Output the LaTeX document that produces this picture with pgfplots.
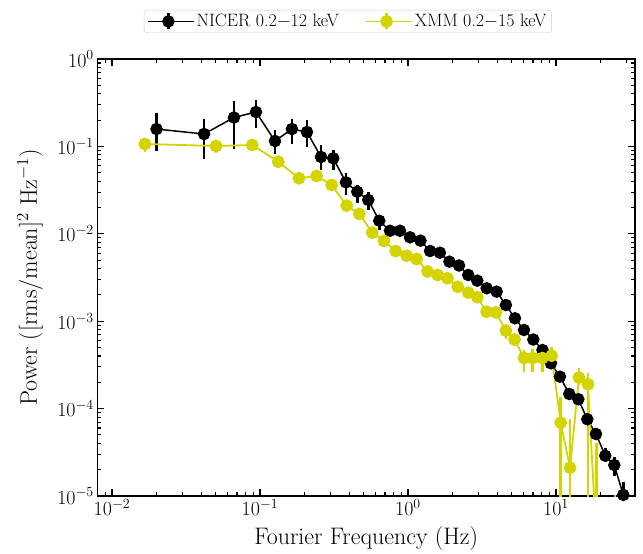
\RequirePackage{fix-cm}
\documentclass[border=0pt]{standalone}
\usepackage{pgfplots}
\pgfplotsset{compat=1.18}
\usepackage{pgfplotstable}
\definecolor{xmmy}{RGB}{212,212,0}

\pgfplotstableread{
f p ep em
0.0200 0.158 0.083 0.069
0.0419 0.1386 0.068 0.067
0.0667 0.214 0.117 0.121
0.0940 0.2475 0.092 0.085
0.1263 0.1153 0.039 0.034
0.1644 0.158 0.048 0.051
0.2078 0.146 0.055 0.048
0.2585 0.0757 0.028 0.022
0.3128 0.0731 0.018 0.019
0.3811 0.0388 0.0104 0.011
0.4543 0.0303 0.006 0.008
0.5390 0.0244 0.006 0.0057
0.6397 0.0141 0.0023 0.0031
0.7557 0.01084 0.0012 0.0011
0.8830 0.01084 0.0011 0.0010
1.032 0.00912 0.0008 0.0008
1.215 0.00834 0.0007 0.0007
1.409 0.00636 0.0005 0.0005
1.644 0.00608 0.0005 0.0005
1.906 0.00480 0.0004 0.0004
2.213 0.00434 0.0003 0.0003
2.554 0.00338 0.00025 0.00025
2.940 0.00291 0.0002 0.0002
3.402 0.00238 0.00017 0.00017
3.975 0.00218 0.00015 0.00015
4.590 0.00153 0.0001 0.0001
5.283 0.00108 0.00008 0.00008
6.08 0.000793 0.00006 0.00006
7.03 0.000617 0.00005 0.00005
8.11 0.000468 0.00004 0.00004
9.25 0.000330 0.00003 0.00003
10.64 0.000232 0.00002 0.00002
12.30 0.000147 0.000014 0.000014
14.16 0.000128 0.000013 0.000013
16.29 7.55e-5 0.8e-5 0.8e-5
18.64 5.12e-5 0.6e-5 0.6e-5
21.53 2.89e-5 0.65e-5 0.41e-5
24.77 2.26e-5 0.53e-5 0.57e-5
28.5 1.03e-5 0.43e-5 0.5e-5
}\nicer

\pgfplotstableread{
f p ep em
0.0167 0.1066 0.018 0.020
0.0505 0.1011 0.014 0.017
0.0887 0.1038 0.010 0.010
0.1329 0.0668 0.005 0.005
0.1834 0.0432 0.003 0.003
0.2415 0.0459 0.003 0.003
0.305 0.0362 0.0025 0.0025
0.3855 0.0210 0.0015 0.0015
0.469 0.01687 0.0012 0.0012
0.574 0.01031 0.0008 0.0008
0.689 0.00828 0.0006 0.0006
0.826 0.00636 0.0005 0.0005
0.980 0.00561 0.0004 0.0004
1.145 0.00515 0.0004 0.0004
1.355 0.00371 0.0003 0.0003
1.588 0.00338 0.0003 0.0003
1.849 0.00310 0.0003 0.0003
2.168 0.00248 0.0002 0.0002
2.555 0.00212 0.0002 0.0002
2.94 0.00188 0.0002 0.0002
3.40 0.00128 0.00012 0.00012
3.93 0.00126 0.00012 0.00012
4.59 0.000778 0.00015 0.00015
5.25 0.000617 0.0001 0.0001
6.08 0.000379 0.00009 0.000115
6.96 0.000379 0.0001 0.000115
8.08 0.000379 0.00009 0.000115
9.35 0.000403 0.000107 0.000073
10.76 6.9e-5 6.8e-5 6.89e-5
12.45 2.11e-5 5.5e-5 2.1e-5
14.30 2.26e-4 0.66e-4 0.4e-4
16.45 1.90e-4 0.65e-4 1.899e-4
18.8 3e-6 3.74e-5 2.9e-6
21.6 2e-6 5e-6 1.9e-6
25.1 2e-6 8.2e-6 1.9e-6
}\xmm

\begin{document}
\begin{tikzpicture}
\begin{axis}[
  name=ax,
  scale only axis,
  width=537.7bp, height=437bp,
  xmode=log, ymode=log,
  xmin=0.00796, xmax=34.2, ymin=1e-5, ymax=1,
  tick align=inside,
  xtick pos=both, ytick pos=both,
  major tick length=7bp, minor tick length=4bp,
  every tick/.append style={black, line width=1.1bp},
  axis line style={line width=1.1bp},
  tick label style={font=\fontsize{20}{24}\selectfont},
  label style={font=\fontsize{24}{29}\selectfont},
  xlabel={Fourier Frequency (Hz)},
  ylabel={Power ([rms/mean]$^2$ Hz$^{-1}$)},
  xlabel style={at={(axis description cs:0.5,-0.098)}, anchor=center},
  ylabel style={at={(axis description cs:-0.125,0.5)}, anchor=center},
  legend columns=2,
  legend style={at={(axis description cs:0.466,1.086)}, anchor=center,
    draw=black!20, rounded corners=3bp, font=\fontsize{18}{21}\selectfont,
    inner ysep=2bp,
    /tikz/every even column/.append style={column sep=24bp}},
  legend image code/.code={
    \path (-4bp,0bp) -- (42bp,0bp);
    \draw[#1,mark=none] (0bp,0bp) -- (33bp,0bp);
    \draw[#1,mark=none,line width=2.6bp] (16.5bp,-8bp) -- (16.5bp,8bp);
    \draw[#1,only marks] plot coordinates {(16.5bp,0bp)};
  },
]
\addplot[black, line width=1.5bp, mark=*, mark size=5.5bp, mark options={solid, fill=black},
  error bars/.cd, y dir=both, y explicit, error mark=none,
  error bar style={line width=2.6bp, black}]
  table[x=f, y=p, y error plus=ep, y error minus=em]{\nicer};
\addlegendentry{NICER 0.2$-$12 keV}
\addplot[xmmy, line width=1.8bp, mark=*, mark size=5.5bp, mark options={solid, fill=xmmy, draw=xmmy},
  error bars/.cd, y dir=both, y explicit, error mark=none,
  error bar style={line width=2.6bp, xmmy}]
  table[x=f, y=p, y error plus=ep, y error minus=em]{\xmm};
\addlegendentry{XMM 0.2$-$15 keV}
\end{axis}
\pgfresetboundingbox
\path ([xshift=-97.3bp,yshift=-58bp]ax.south west) rectangle ([xshift=8bp,yshift=59bp]ax.north east);
\end{tikzpicture}
\end{document}
